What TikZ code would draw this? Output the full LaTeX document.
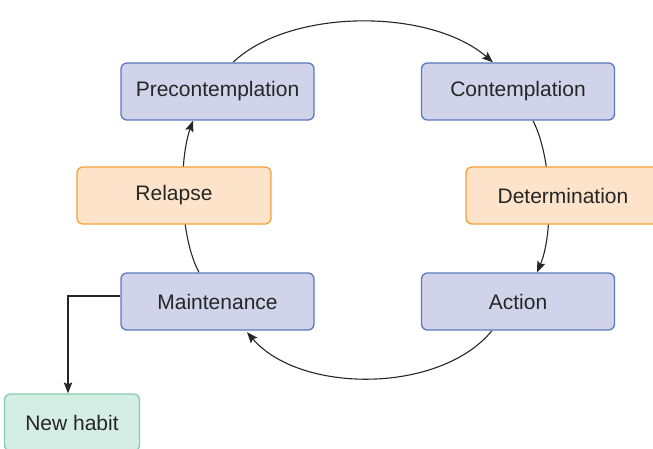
\documentclass[tikz,border=0pt]{standalone}
\usepackage{fontspec}
\setmainfont{Liberation Sans}
\usetikzlibrary{arrows.meta,backgrounds}
\definecolor{stageFill}{HTML}{D0D3EA}
\definecolor{stageLine}{HTML}{5B78BE}
\definecolor{slipFill}{HTML}{FDE3C9}
\definecolor{slipLine}{HTML}{F5A23A}
\definecolor{habitFill}{HTML}{D4EDE5}
\definecolor{habitLine}{HTML}{88CDA6}
\definecolor{ink}{HTML}{262626}
\tikzset{
  box/.style={rectangle, rounded corners=6pt, line width=1.3pt, inner sep=0pt,
    minimum height=57pt, text=ink, font=\fontsize{21}{25}\selectfont},
  stage/.style={box, fill=stageFill, draw=stageLine, minimum width=193pt},
  slip/.style={box, fill=slipFill, draw=slipLine, minimum width=194pt},
  habit/.style={box, fill=habitFill, draw=habitLine, minimum width=135pt},
  flow/.style={line width=1.1pt, draw=ink, -{Stealth[length=11pt,width=8.5pt,inset=2pt]}},
}
\begin{document}
\begin{tikzpicture}[x=1pt,y=-1pt]
\useasboundingbox (0,0) rectangle (653,449);
\clip (0,0) rectangle (653,449);

% stages of the cycle
\node[stage] (pre) at (217.5,91.5) {Precontemplation};
\node[stage] (con) at (518,91.5) {Contemplation};
\node[slip]  (rel) at (174,195.5) {Relapse};
\node[slip]  (det) at (563,195.5) {Determination};
\node[stage] (mai) at (217.5,301.5) {Maintenance};
\node[stage] (act) at (518,301.5) {Action};
\node[habit] (new) at (72,422.5) {New habit};

% cycle arrows, kept behind the boxes
\begin{pgfonlayer}{background}
\draw[flow] ([xshift=15.5pt]pre.north) .. controls (290,8) and (430,8) .. ([xshift=-25pt]con.north);
\draw[flow] ([xshift=15pt]con.south) .. controls (553,160) and (553,235) .. ([xshift=19pt]act.north);
\draw[flow] ([xshift=-26pt]act.south) .. controls (440,394) and (300,394) .. ([xshift=29.5pt,yshift=-1.5pt]mai.south);
\draw[flow] ([xshift=-18.5pt]mai.north) .. controls (179,235) and (179,160) .. ([xshift=-24.5pt]pre.south);
\end{pgfonlayer}

% exit from the cycle
\draw[flow] ([yshift=5.5pt]mai.west) -| (new.north -| 68,0);
\end{tikzpicture}
\end{document}
